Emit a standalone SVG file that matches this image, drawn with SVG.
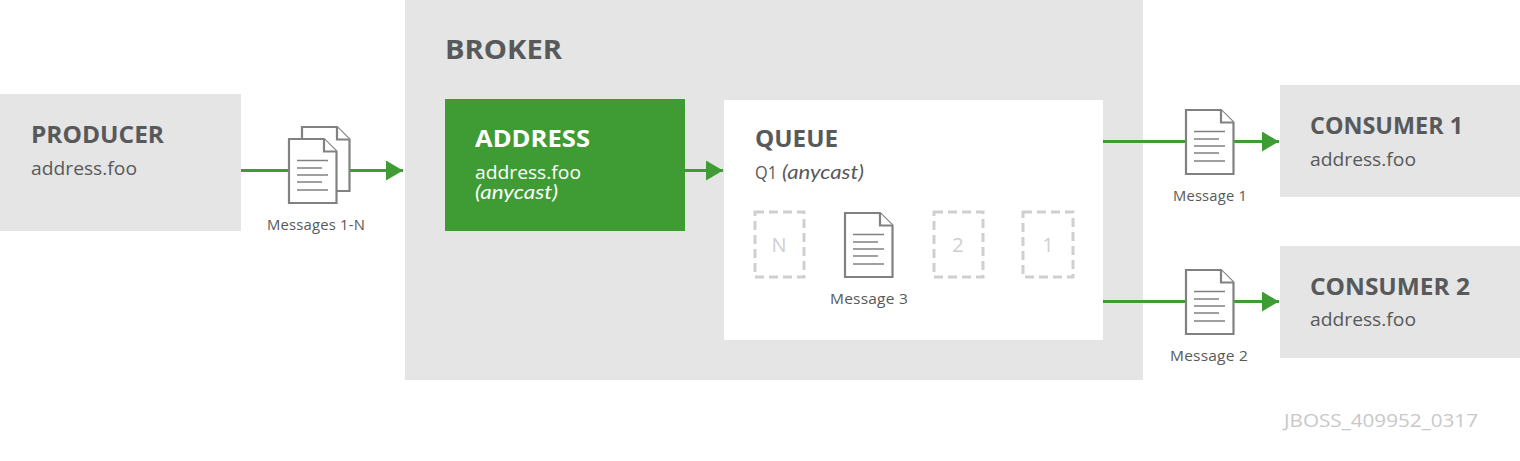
<svg xmlns="http://www.w3.org/2000/svg" width="1520" height="461" viewBox="0 0 1520 461">
<style>
text{font-family:"Open Sans","Noto Sans","Liberation Sans",sans-serif;fill:#58595b}
.t{font-size:23.500px;font-weight:700}
.s{font-size:19px}
.i{font-family:Lato,"Open Sans",sans-serif;font-size:19px;font-style:italic}
.c{font-size:14.500px;text-anchor:middle;letter-spacing:.2px}
.g{fill:#e5e5e5}
.d{fill:#fff;stroke:#cfcfcf;stroke-width:3;stroke-dasharray:9 5}
.n{font-size:20px;fill:#cfcfcf;text-anchor:middle}
.ln{stroke:#3f9c35;stroke-width:3;fill:none}
.dc{fill:#fff;stroke:#818181;stroke-width:2.2}
.dl{stroke:#818181;stroke-width:1.6;fill:none}
</style>
<defs>
<marker id="a" markerUnits="userSpaceOnUse" markerWidth="18" markerHeight="20" refX="17" refY="10" orient="auto"><path d="M0 0L17 10L0 20Z" fill="#3f9c35"/></marker>
<g id="sheet"><path class="dc" d="M0 0H35L47.500 12.500V64H0Z"/><path class="dc" d="M35 0V12.500H47.500" fill="none"/></g>
<g id="doc"><use href="#sheet"/><path class="dl" d="M8 21.500H39M8 29H33M8 36H39M8 43H33M8 51H39"/></g>
</defs>
<g id="broker"><rect class="g" x="405" y="0" width="738" height="380"/><text x="445" y="59" font-size="26" font-weight="700" textLength="117" lengthAdjust="spacingAndGlyphs">BROKER</text></g>
<g id="producer"><rect class="g" x="0" y="94" width="241" height="137"/><text class="t" x="31" y="143" textLength="133" lengthAdjust="spacingAndGlyphs">PRODUCER</text><text class="s" x="31" y="175" textLength="106" lengthAdjust="spacingAndGlyphs">address.foo</text></g>
<g id="address"><rect x="445" y="99" width="240" height="132" fill="#3f9c35"/><text class="t" x="475" y="147" style="fill:#fff" textLength="115" lengthAdjust="spacingAndGlyphs">ADDRESS</text><text class="s" x="475" y="179" style="fill:#fff" textLength="106" lengthAdjust="spacingAndGlyphs">address.foo</text><text class="i" x="475" y="199" style="fill:#fff" textLength="83" lengthAdjust="spacingAndGlyphs">(anycast)</text></g>
<g id="queue"><rect x="724" y="100" width="379" height="240" fill="#fff"/><text class="t" x="755" y="147" textLength="83" lengthAdjust="spacingAndGlyphs">QUEUE</text><text class="s" x="755" y="179" textLength="22" lengthAdjust="spacingAndGlyphs">Q1</text><text class="i" x="782" y="179" textLength="82" lengthAdjust="spacingAndGlyphs">(anycast)</text></g>
<g id="consumer1"><rect class="g" x="1280" y="85" width="240" height="112"/><text class="t" x="1310" y="134" textLength="153" lengthAdjust="spacingAndGlyphs">CONSUMER 1</text><text class="s" x="1310" y="166" textLength="106" lengthAdjust="spacingAndGlyphs">address.foo</text></g>
<g id="consumer2"><rect class="g" x="1280" y="246" width="240" height="112"/><text class="t" x="1310" y="295" textLength="160" lengthAdjust="spacingAndGlyphs">CONSUMER 2</text><text class="s" x="1310" y="326" textLength="106" lengthAdjust="spacingAndGlyphs">address.foo</text></g>
<g id="connectors">
<path class="ln" d="M241 170.500H403" marker-end="url(#a)"/>
<path class="ln" d="M685 170.500H723" marker-end="url(#a)"/>
<path class="ln" d="M1103 141.500H1279" marker-end="url(#a)"/>
<path class="ln" d="M1103 301.500H1279" marker-end="url(#a)"/>
</g>
<g id="messages-1-n"><use href="#sheet" x="302" y="127"/><use href="#doc" x="289" y="139"/><text class="c" x="316" y="230" textLength="98" lengthAdjust="spacingAndGlyphs">Messages 1-N</text></g>
<g id="message-1"><use href="#doc" x="1186" y="110"/><text class="c" x="1210" y="201" textLength="74" lengthAdjust="spacingAndGlyphs">Message 1</text></g>
<g id="message-2"><use href="#doc" x="1186" y="270"/><text class="c" x="1209" y="361" textLength="78" lengthAdjust="spacingAndGlyphs">Message 2</text></g>
<g id="slot-n"><rect class="d" x="755" y="212" width="49" height="65"/><text class="n" x="779" y="252">N</text></g>
<g id="message-3"><use href="#doc" x="845" y="213"/><text class="c" x="869" y="304" textLength="78" lengthAdjust="spacingAndGlyphs">Message 3</text></g>
<g id="slot-2"><rect class="d" x="934" y="212" width="49" height="65"/><text class="n" x="958" y="252">2</text></g>
<g id="slot-1"><rect class="d" x="1023" y="212" width="50" height="65"/><text class="n" x="1048" y="252">1</text></g>
<text x="1284" y="427" font-size="19" style="fill:#c8c8c8" textLength="194" lengthAdjust="spacingAndGlyphs">JBOSS_409952_0317</text>
</svg>
